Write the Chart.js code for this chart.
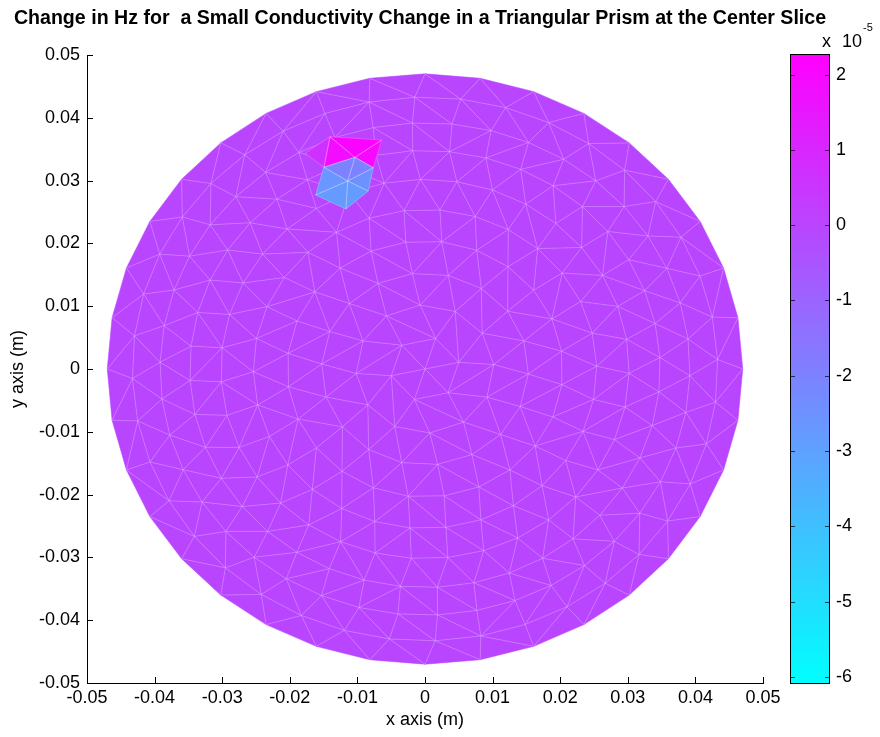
<!DOCTYPE html>
<html>
<head>
<meta charset="utf-8">
<title>Change in Hz – center slice</title>
<script src="https://cdn.jsdelivr.net/npm/chart.js@4/dist/chart.umd.min.js"></script>
<style>
  html, body { margin: 0; padding: 0; background: #ffffff; }
  #wrap { width: 880px; height: 737px; position: relative; }
</style>
</head>
<body>
<div id="wrap"><canvas id="c" width="880" height="737"></canvas></div>
<script>
// ---- labels and ticks ----
const titleText = 'Change in Hz for  a Small Conductivity Change in a Triangular Prism at the Center Slice';
const xTitle = 'x axis (m)';
const yTitle = 'y axis (m)';
const xTicks = [-0.05, -0.04, -0.03, -0.02, -0.01, 0, 0.01, 0.02, 0.03, 0.04, 0.05];
const yTicks = [-0.05, -0.04, -0.03, -0.02, -0.01, 0, 0.01, 0.02, 0.03, 0.04, 0.05];
const colorTicks = [-6, -5, -4, -3, -2, -1, 0, 1, 2];
const colorMin = -6.08;   // colour limits, in units of 1e-5 Hz
const colorMax = 2.26;
const colorExponent = '-5';

// ---- slice mesh: concentric node rings (radius in m, node count, angular twist in deg) ----
const ringRadius = [0, 0.0051, 0.0102, 0.0153, 0.0204, 0.0254, 0.0302, 0.0348, 0.0392, 0.0433, 0.0470];
const ringCount  = [1, 6, 12, 18, 24, 30, 35, 40, 42, 40, 36];
const ringTwist  = [0, 12, 4, 17, 8, 1, 9, 3, 7, 2, 0];
const backgroundValue = 0;   // Hz change (1e-5) of untouched elements

// ---- elements around the prism: node positions (m) ----
const spotNodeNames = ['A', 'B', 'C', 'D', 'E', 'F', 'G', 'H', 'I', 'J'];
const spotNodeX = [-0.01405, -0.00641, -0.01036, -0.00765, -0.01495, -0.01144, -0.00840, -0.01617, -0.01169, -0.01776];
const spotNodeY = [ 0.03699,  0.03646,  0.03371,  0.03205,  0.03212,  0.02994,  0.02834,  0.02771,  0.02548,  0.03435];
// triangles (node names) and their values (1e-5 Hz)
const spotCells  = ['JAE', 'ABC', 'BDC', 'ACE', 'FEC', 'FCD', 'FDG', 'FGI', 'FIH', 'FHE'];
const spotValues = [0.6, 2.1, 1.9, 1.8, -2.0, -2.0, -2.5, -2.7, -2.7, -2.6];

// ---- helpers ----
const FONT = "'Liberation Sans', Arial, Helvetica, sans-serif";
const EDGE = 'rgba(255,255,255,0.22)';

function coolColor(v) {
  let t = (v - colorMin) / (colorMax - colorMin);
  t = Math.min(1, Math.max(0, t));
  const idx = Math.min(63, Math.floor(t * 64));
  const u = idx / 63;
  return `rgb(${Math.round(255 * u)},${Math.round(255 * (1 - u))},255)`;
}

function fmtTick(v) {
  const r = Math.round(v * 100) / 100;
  return r === 0 ? '0' : String(r);
}

function buildMesh() {
  const nodes = [];
  const rings = [];
  ringRadius.forEach((r, k) => {
    const n = ringCount[k];
    const ids = [];
    for (let j = 0; j < n; j++) {
      const a = (ringTwist[k] + 360 * j / n) * Math.PI / 180;
      ids.push(nodes.length);
      nodes.push({ x: r * Math.cos(a), y: r * Math.sin(a) });
    }
    rings.push(ids);
  });
  const tris = [];
  const mod = (a, n) => ((a % n) + n) % n;
  for (let k = 1; k < rings.length; k++) {
    const inner = rings[k - 1], outer = rings[k];
    const n1 = inner.length, n2 = outer.length;
    if (n1 === 1) {
      for (let j = 0; j < n2; j++) tris.push([inner[0], outer[j], outer[(j + 1) % n2]]);
      continue;
    }
    const A = i => ringTwist[k - 1] + 360 * i / n1;
    const B = j => ringTwist[k] + 360 * j / n2;
    const j0 = Math.round((A(0) - ringTwist[k]) * n2 / 360);
    let i = 0, j = j0;
    while (i < n1 || j < j0 + n2) {
      const stepInner = i < n1 && (j >= j0 + n2 || A(i + 1) < B(j + 1));
      if (stepInner) {
        tris.push([inner[mod(i, n1)], inner[mod(i + 1, n1)], outer[mod(j, n2)]]);
        i++;
      } else {
        tris.push([inner[mod(i, n1)], outer[mod(j + 1, n2)], outer[mod(j, n2)]]);
        j++;
      }
    }
  }
  return { nodes, tris, boundary: rings[rings.length - 1] };
}

const mesh = buildMesh();

function tracePoly(ctx, pts) {
  ctx.beginPath();
  ctx.moveTo(pts[0][0], pts[0][1]);
  for (let i = 1; i < pts.length; i++) ctx.lineTo(pts[i][0], pts[i][1]);
  ctx.closePath();
}

// filled triangles of the slice, drawn through the chart's x/y scales
const meshPlugin = {
  id: 'meshPlugin',
  beforeDatasetsDraw(chart) {
    const { ctx, scales: { x, y } } = chart;
    const P = p => [x.getPixelForValue(p.x), y.getPixelForValue(p.y)];
    const boundarySet = new Set(mesh.boundary);
    ctx.save();
    ctx.lineJoin = 'round';

    // element fills
    const base = coolColor(backgroundValue);
    mesh.tris.forEach(t => {
      tracePoly(ctx, t.map(id => P(mesh.nodes[id])));
      ctx.fillStyle = base;
      ctx.strokeStyle = base;
      ctx.lineWidth = 0.6;
      ctx.fill();
      ctx.stroke();
    });

    // element edges
    const seen = new Set();
    ctx.strokeStyle = EDGE;
    ctx.lineWidth = 1;
    ctx.beginPath();
    mesh.tris.forEach(t => {
      for (let e = 0; e < 3; e++) {
        const a = t[e], b = t[(e + 1) % 3];
        const key = a < b ? a + '_' + b : b + '_' + a;
        if (seen.has(key)) continue;
        seen.add(key);
        if (boundarySet.has(a) && boundarySet.has(b)) continue;
        const pa = P(mesh.nodes[a]), pb = P(mesh.nodes[b]);
        ctx.moveTo(pa[0], pa[1]);
        ctx.lineTo(pb[0], pb[1]);
      }
    });
    ctx.stroke();

    // elements near the prism
    const nodeAt = name => {
      const i = spotNodeNames.indexOf(name);
      return P({ x: spotNodeX[i], y: spotNodeY[i] });
    };
    spotCells.forEach((cell, c) => {
      const col = coolColor(spotValues[c]);
      tracePoly(ctx, cell.split('').map(nodeAt));
      ctx.fillStyle = col;
      ctx.strokeStyle = col;
      ctx.lineWidth = 0.6;
      ctx.fill();
      ctx.stroke();
    });
    ctx.strokeStyle = EDGE;
    ctx.lineWidth = 1;
    spotCells.forEach(cell => {
      tracePoly(ctx, cell.split('').map(nodeAt));
      ctx.stroke();
    });
    ctx.restore();
  },

  afterDraw(chart) {
    const { ctx, chartArea: area, scales: { x, y, cb } } = chart;
    ctx.save();

    // inward tick marks on the two drawn axes
    ctx.strokeStyle = '#000';
    ctx.lineWidth = 1;
    ctx.beginPath();
    xTicks.forEach(v => {
      const px = Math.round(x.getPixelForValue(v)) + 0.5;
      ctx.moveTo(px, area.bottom);
      ctx.lineTo(px, area.bottom - 6);
    });
    yTicks.forEach(v => {
      const py = Math.round(y.getPixelForValue(v)) + 0.5;
      ctx.moveTo(area.left, py);
      ctx.lineTo(area.left + 6, py);
    });
    ctx.stroke();

    // colour bar
    const barL = 790, barR = 830;
    const top = cb.getPixelForValue(colorMax);
    const bot = cb.getPixelForValue(colorMin);
    const grad = ctx.createLinearGradient(0, bot, 0, top);
    grad.addColorStop(0, coolColor(colorMin));
    grad.addColorStop(1, coolColor(colorMax));
    ctx.fillStyle = grad;
    ctx.fillRect(barL, top, barR - barL, bot - top);
    ctx.strokeStyle = '#000';
    ctx.strokeRect(barL + 0.5, Math.round(top) - 0.5, barR - barL - 1, Math.round(bot - top) + 1);
    ctx.strokeStyle = 'rgba(0,0,0,0.7)';
    ctx.beginPath();
    colorTicks.forEach(v => {
      const py = Math.round(cb.getPixelForValue(v)) + 0.5;
      ctx.moveTo(barL, py); ctx.lineTo(barL + 5, py);
      ctx.moveTo(barR, py); ctx.lineTo(barR - 5, py);
    });
    ctx.stroke();

    // exponent label of the colour bar
    ctx.fillStyle = '#000';
    ctx.textAlign = 'left';
    ctx.textBaseline = 'alphabetic';
    ctx.font = `18px ${FONT}`;
    ctx.fillText('x', 822, 47);
    ctx.fillText('10', 842, 47);
    const w = ctx.measureText('10').width;
    ctx.font = `11px ${FONT}`;
    ctx.fillText(colorExponent, 842 + w + 1, 31);

    // title
    ctx.font = `bold 19.6px ${FONT}`;
    ctx.textAlign = 'center';
    ctx.fillText(titleText, 420, 24);
    ctx.restore();
  }
};

const tickFont = { family: FONT, size: 18 };

new Chart(document.getElementById('c'), {
  type: 'scatter',
  data: {
    datasets: [{
      label: 'mesh nodes',
      data: mesh.nodes,
      pointRadius: 0,
      pointHoverRadius: 0,
      showLine: false
    }]
  },
  options: {
    responsive: false,
    animation: false,
    devicePixelRatio: 1,
    events: [],
    layout: { padding: { top: 55, left: 0, right: 0, bottom: 0 } },
    plugins: { legend: { display: false }, tooltip: { enabled: false }, title: { display: false } },
    scales: {
      x: {
        type: 'linear', position: 'bottom', min: -0.05, max: 0.05,
        afterBuildTicks: s => { s.ticks = xTicks.map(v => ({ value: v })); },
        afterFit: s => { s.height = 54; },
        ticks: { font: tickFont, color: '#000', padding: 4, maxRotation: 0, autoSkip: false, callback: fmtTick },
        grid: { display: true, drawOnChartArea: false, drawTicks: false },
        border: { display: true, color: '#000', width: 1 },
        title: { display: true, text: xTitle, color: '#000', font: { family: FONT, size: 18 }, padding: { top: 0, bottom: 6 } }
      },
      y: {
        type: 'linear', position: 'left', min: -0.05, max: 0.05,
        afterBuildTicks: s => { s.ticks = yTicks.map(v => ({ value: v })); },
        afterFit: s => { s.width = 87; s.paddingTop = 0; s.paddingBottom = 0; },
        ticks: { font: tickFont, color: '#000', padding: 7, autoSkip: false, callback: fmtTick },
        grid: { display: true, drawOnChartArea: false, drawTicks: false },
        border: { display: true, color: '#000', width: 1 },
        title: { display: true, text: yTitle, color: '#000', font: { family: FONT, size: 18 }, padding: { top: 7, bottom: 0 } }
      },
      cb: {
        type: 'linear', position: 'right', min: colorMin, max: colorMax,
        afterBuildTicks: s => { s.ticks = colorTicks.map(v => ({ value: v })); },
        afterFit: s => { s.width = 117; s.paddingTop = 0; s.paddingBottom = 0; },
        ticks: { font: tickFont, color: '#000', padding: 73, autoSkip: false, callback: v => String(v) },
        grid: { display: false, drawTicks: false },
        border: { display: false }
      }
    }
  },
  plugins: [meshPlugin]
});
</script>
</body>
</html>
